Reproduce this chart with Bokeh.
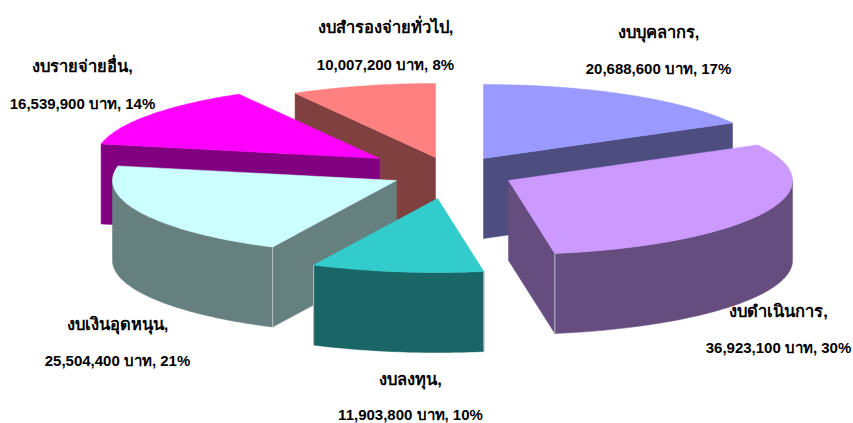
import numpy as np
from bokeh.plotting import figure
from bokeh.core.properties import value
from bokeh.embed import file_html
from bokeh.resources import INLINE

names = ["งบบุคลากร", "งบดำเนินการ", "งบลงทุน", "งบเงินอุดหนุน", "งบรายจ่ายอื่น", "งบสำรองจ่ายทั่วไป"]
amounts = [20688600, 36923100, 11903800, 25504400, 16539900, 10007200]
percents = [17, 30, 10, 21, 14, 8]
top_colors = ["#9999FF", "#CC99FF", "#33CCCC", "#CCFFFF", "#FF00FF", "#FF8080"]
side_colors = ["#4D4D80", "#664D80", "#1A6666", "#668080", "#800080", "#804040"]
apex_x = [483, 508, 437, 396, 379, 435]
apex_y = [158, 180, 198, 180, 158, 157]
label_x = [658, 778, 410, 117, 82, 385]
label_y1 = [31, 310, 378, 323, 65, 26]
label_y2 = [68, 347, 414, 360, 103, 64]
draw_order = [5, 4, 0, 3, 1, 2]

RX, RY, DEPTH = 284.0, 74.0, 80.0
EDGE = "#B8C4C4"

p = figure(width=853, height=423, x_range=(0, 853), y_range=(423, 0),
           output_backend="svg", toolbar_location=None, min_border=0,
           outline_line_color=None, background_fill_color="white")
p.axis.visible = False
p.grid.visible = False

total = sum(amounts)
fractions = np.cumsum([0] + amounts) / total * 2 * np.pi


def rim(cx, cy, a0, a1):
    t = np.linspace(a0, a1, max(3, int((a1 - a0) * 60)))
    return cx + RX * np.sin(t), cy - RY * np.cos(t)


for i in draw_order:
    a0, a1 = fractions[i], fractions[i + 1]
    cx, cy = apex_x[i], apex_y[i]
    # cut faces, only the ones that turn towards the viewer
    for a, visible in ((a0, np.sin(a0) < 0), (a1, np.sin(a1) > 0)):
        if visible:
            ox, oy = cx + RX * np.sin(a), cy - RY * np.cos(a)
            p.patch([cx, ox, ox, cx], [cy, oy, oy + DEPTH, cy + DEPTH],
                    fill_color=side_colors[i], line_color=side_colors[i], line_width=0.5)
    # outer wall for the near half of the rim
    w0, w1 = max(a0, np.pi / 2), min(a1, 3 * np.pi / 2)
    if w1 > w0:
        wx, wy = rim(cx, cy, w0, w1)
        p.patch(np.r_[wx, wx[::-1]], np.r_[wy, wy[::-1] + DEPTH],
                fill_color=side_colors[i], line_color=side_colors[i], line_width=0.5)
        for a in (a0, a1):
            if np.pi / 2 <= a <= 3 * np.pi / 2:
                ox, oy = cx + RX * np.sin(a), cy - RY * np.cos(a)
                p.line([ox, ox], [oy, oy + DEPTH], line_color=EDGE, line_width=1)
    # top
    tx, ty = rim(cx, cy, a0, a1)
    p.patch(np.r_[cx, tx], np.r_[cy, ty], fill_color=top_colors[i],
            line_color=top_colors[i], line_width=0.5)

for i in range(len(names)):
    line1 = names[i] + ","
    line2 = f"{amounts[i]:,} บาท, {percents[i]}%"
    for txt, y, size in ((line1, label_y1[i], "16.5px"), (line2, label_y2[i], "15px")):
        p.text([label_x[i]], [y], text=[txt], text_align="center", text_baseline="middle",
               text_font=value("Liberation Sans"), text_font_style="bold",
               text_font_size=size, text_color="#000000")

open("out.html", "w").write(file_html(p, INLINE))
